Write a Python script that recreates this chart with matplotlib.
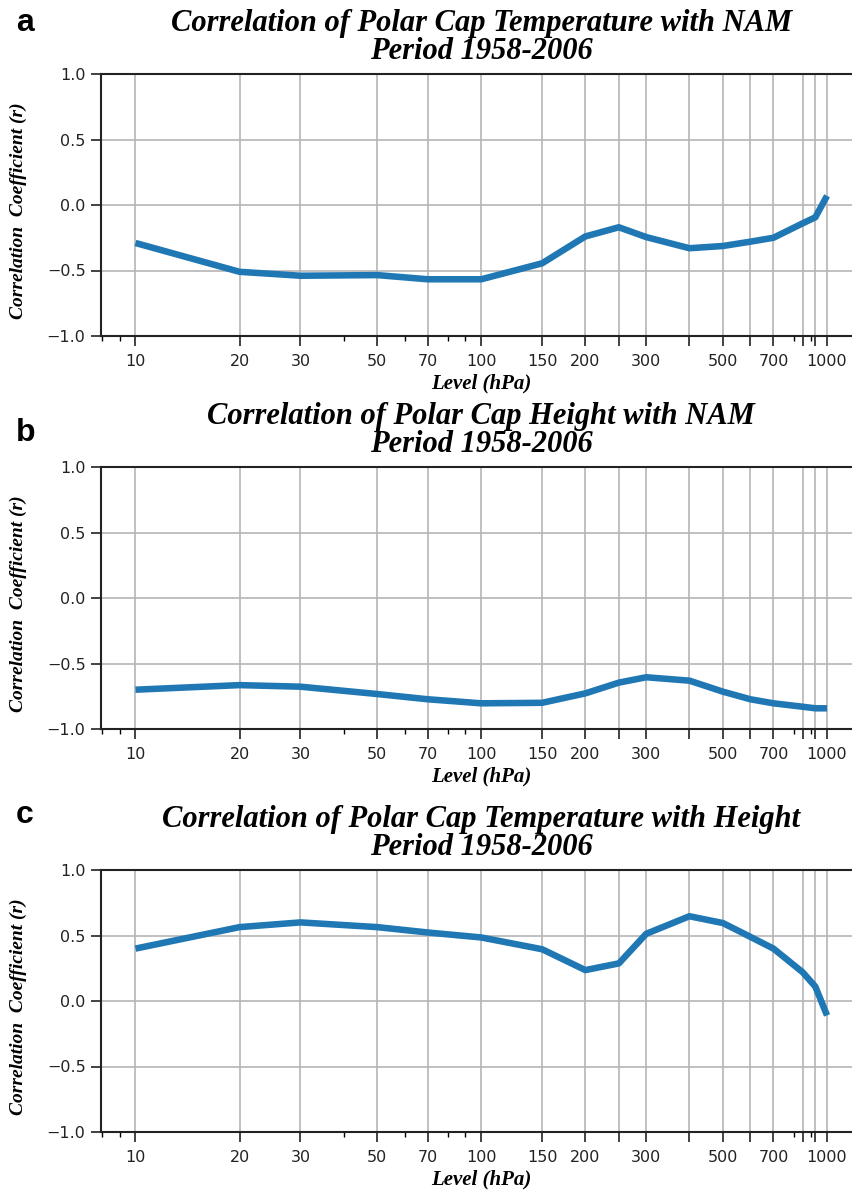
import matplotlib.pyplot as plt
from matplotlib.ticker import NullFormatter

# pressure levels (hPa) and the labels shown under them
levels = [10, 20, 30, 50, 70, 100, 150, 200, 250, 300, 400, 500, 600, 700, 850, 925, 1000]
tick_labels = ['10', '20', '30', '50', '70', '100', '150', '200', '', '300', '',
               '500', '', '700', '', '', '1000']

# correlation coefficients
temp_nam = [-0.29, -0.51, -0.54, -0.535, -0.567, -0.567, -0.445, -0.24, -0.17,
            -0.245, -0.33, -0.313, -0.28, -0.25, -0.14, -0.094, 0.07]
height_nam = [-0.70, -0.665, -0.677, -0.733, -0.773, -0.804, -0.80, -0.728, -0.646,
              -0.605, -0.631, -0.715, -0.773, -0.804, -0.83, -0.842, -0.842]
temp_height = [0.40, 0.564, 0.60, 0.564, 0.523, 0.485, 0.395, 0.236, 0.287,
               0.513, 0.647, 0.595, 0.49, 0.40, 0.22, 0.11, -0.11]

series = [temp_nam, height_nam, temp_height]
titles = ["Correlation of Polar Cap Temperature with NAM\nPeriod 1958-2006",
          "Correlation of Polar Cap Height with NAM\nPeriod 1958-2006",
          "Correlation of Polar Cap Temperature with Height\nPeriod 1958-2006"]
letters = ['a', 'b', 'c']

W, H = 853, 1190
ax_tops = [74, 467, 870]      # pixel rows of the top spines
letter_base = [31, 441, 823]  # baseline of the panel letters
ax_h = 262
ax_left, ax_w = 100.9, 760.7

serif = dict(family='Liberation Serif', weight='bold', style='italic')

fig = plt.figure(figsize=(W / 100, H / 100), dpi=100)

for i in range(3):
  top = ax_tops[i]
  ax = fig.add_axes([ax_left / W, 1 - (top + ax_h) / H, ax_w / W, ax_h / H])
  ax.plot(levels, series[i], color='#1f77b4', lw=4.7, solid_capstyle='butt')
  ax.set_xscale('log')
  ax.set_xlim(10 ** 0.9, 10 ** 3.1)
  ax.set_ylim(-1.0, 1.0)
  ax.set_xticks(levels)
  ax.set_xticklabels(tick_labels)
  ax.xaxis.set_minor_formatter(NullFormatter())
  ax.set_yticks([-1.0, -0.5, 0.0, 0.5, 1.0])
  ax.tick_params(which='major', length=7, width=1.2, labelsize=11.5,
                 colors='#222222', pad=4)
  ax.tick_params(axis='x', which='major', pad=6)
  ax.tick_params(which='minor', length=3.5, width=1.0)
  ax.grid(True, which='major', color='#b5b5b5', lw=1.2)
  for s in ax.spines.values():
    s.set_linewidth(1.5)
    s.set_color('#222222')
  ax.set_title(titles[i], fontsize=22, linespacing=0.95, pad=11, **serif)
  ax.set_xlabel("Level (hPa)", fontsize=15, labelpad=3, **serif)
  ax.set_ylabel("Correlation  Coefficient (r)", fontsize=14, **serif)
  ax.yaxis.set_label_coords(-0.097, 0.48)
  fig.text(16 / W, 1 - letter_base[i] / H, letters[i], fontsize=23,
           family='Liberation Sans', weight='bold', va='baseline')

fig.savefig('out.png', dpi=100)
